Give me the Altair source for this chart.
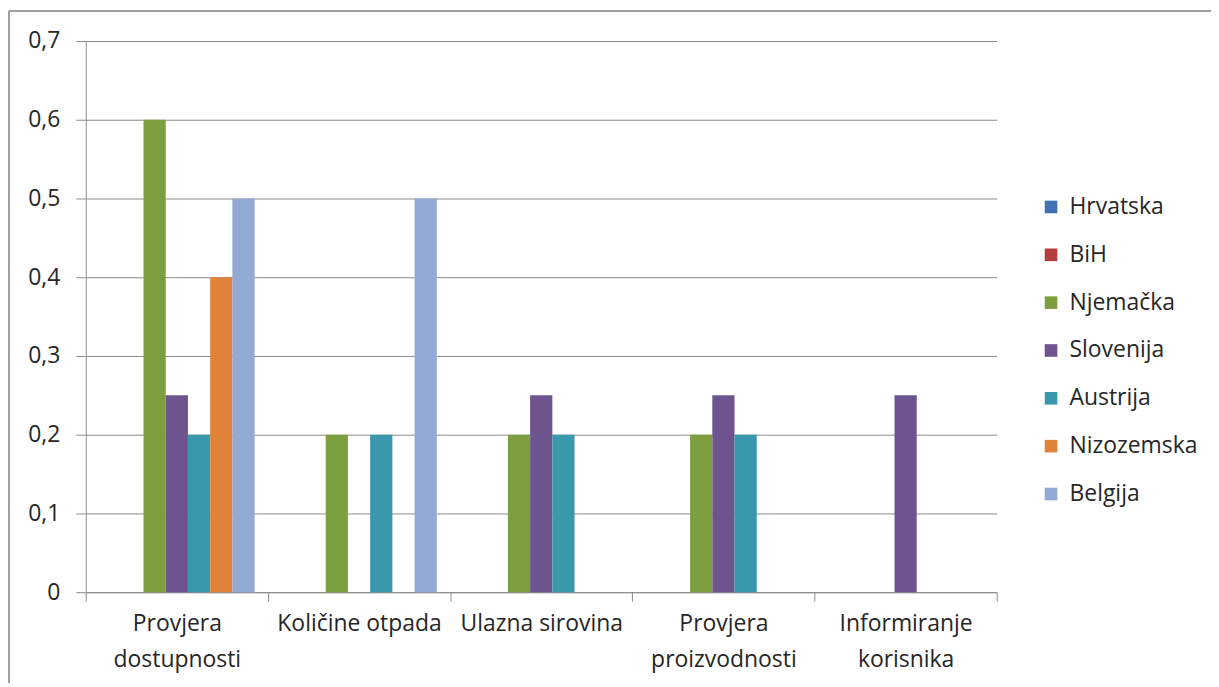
import altair as alt
import pandas as pd

categories = ["Provjera dostupnosti", "Količine otpada", "Ulazna sirovina",
              "Provjera proizvodnosti", "Informiranje korisnika"]
series = ["Hrvatska", "BiH", "Njemačka", "Slovenija", "Austrija", "Nizozemska", "Belgija"]
colors = ["#4170B3", "#B43D3B", "#7D9E3F", "#6E548F", "#3A98AC", "#E0823A", "#91A9D3"]

hrvatska = [0, 0, 0, 0, 0]
bih = [0, 0, 0, 0, 0]
njemacka = [0.6, 0.2, 0.2, 0.2, 0]
slovenija = [0.25, 0, 0.25, 0.25, 0.25]
austrija = [0.2, 0.2, 0.2, 0.2, 0]
nizozemska = [0.4, 0, 0, 0, 0]
belgija = [0.5, 0.5, 0, 0, 0]

values = [hrvatska, bih, njemacka, slovenija, austrija, nizozemska, belgija]
rows = []
for s, vals in zip(series, values):
    for c, v in zip(categories, vals):
        rows.append({"kategorija": c, "drzava": s, "vrijednost": v})
df = pd.DataFrame(rows)

FONT = "Open Sans"
TXT = "#262626"
GRID = "#8c8c8c"
FS = 23

bars = alt.Chart(df).mark_bar().encode(
    x=alt.X("kategorija:N", sort=categories, title=None,
            scale=alt.Scale(paddingInner=0, paddingOuter=0),
            axis=alt.Axis(labelAngle=0, tickBand="extent", tickSize=9, tickColor=GRID,
                          domainColor=GRID, labelPadding=11, labelFontSize=FS,
                          labelFont=FONT, labelColor=TXT, labelLineHeight=37,
                          labelBaseline="top", labelLimit=300,
                          labelExpr="length(datum.label) > 16 ? split(datum.label, ' ') : datum.label")),
    xOffset=alt.XOffset("drzava:N", sort=series,
                        scale=alt.Scale(domain=series, paddingInner=0, paddingOuter=0.6)),
    y=alt.Y("vrijednost:Q", title=None,
            scale=alt.Scale(domain=[0, 0.7], nice=False),
            axis=alt.Axis(values=[0, 0.1, 0.2, 0.3, 0.4, 0.5, 0.6, 0.7], tickSize=10,
                          tickColor=GRID, domainColor=GRID, gridColor=GRID, grid=True,
                          labelPadding=16, labelFontSize=FS, labelFont=FONT, labelColor=TXT,
                          labelExpr="replace(format(datum.value, '.1~f'), '.', ',')")),
    color=alt.Color("drzava:N", sort=series, title=None,
                    scale=alt.Scale(domain=series, range=colors),
                    legend=alt.Legend(orient="none", legendX=957, legendY=155,
                                      symbolType="square", symbolSize=160,
                                      symbolStrokeWidth=0, labelFontSize=FS,
                                      labelFont=FONT, labelColor=TXT, rowPadding=24,
                                      labelOffset=7)),
)

frame_top = alt.Chart(alt.Data(values=[{}])).mark_rule(color="#a0a0a0", strokeWidth=2).encode(
    x=alt.value(-77), x2=alt.value(1300), y=alt.value(-30))
frame_left = alt.Chart(alt.Data(values=[{}])).mark_rule(color="#a0a0a0", strokeWidth=2).encode(
    x=alt.value(-77), y=alt.value(-30), y2=alt.value(800))

chart = alt.layer(bars, frame_top, frame_left).properties(
    width=914, height=553,
    autosize=alt.AutoSizeParams(type="none"),
    padding={"left": 78, "top": 32, "right": 215, "bottom": 90},
    background="#ffffff",
).configure_view(stroke=None)

chart.save("out.html", embed_options={"renderer": "svg", "actions": False})
